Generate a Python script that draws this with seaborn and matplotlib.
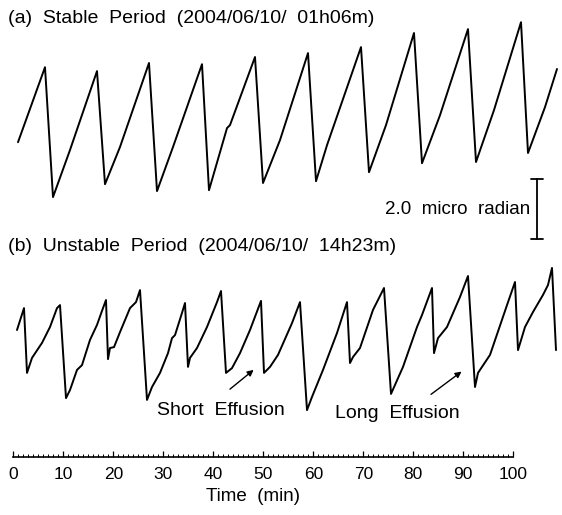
import numpy as np
import pandas as pd
import matplotlib
matplotlib.use("Agg")
import matplotlib.pyplot as plt
from matplotlib.ticker import FixedLocator
import seaborn as sns

# (a) stable period: time (min) and tilt (micro radian)
stable_t = [0.94, 6.34, 7.94, 11.34, 16.74, 18.34, 21.34, 27.14, 28.74,
            31.94, 37.74, 39.14, 42.74, 43.34, 48.34, 49.94, 53.34, 58.94,
            60.54, 62.74, 69.54, 71.14, 74.54, 80.14, 81.74, 85.34, 90.94,
            92.54, 96.14, 101.54, 102.94, 106.34, 108.74]
stable_v = [1.83, 4.33, 0.00, 1.57, 4.20, 0.43, 1.67, 4.47, 0.20,
            1.67, 4.43, 0.23, 2.30, 2.40, 4.67, 0.47, 1.90, 4.80,
            0.53, 1.73, 5.00, 0.83, 2.40, 5.47, 1.13, 2.73, 5.60,
            1.17, 2.90, 5.83, 1.47, 3.00, 4.27]

# (b) unstable period
unstable_t = [0.74, 2.14, 2.74, 3.14, 3.74, 5.74, 7.34, 8.74, 9.34, 10.54, 11.34,
              12.74, 13.74, 15.34, 16.74, 17.94, 18.54, 18.94, 19.34, 20.14, 21.34, 22.94,
              23.34, 24.54, 25.34, 26.74, 27.74, 29.34, 30.94, 31.74, 32.34, 33.74,
              34.34, 34.94, 35.34, 36.74, 38.74, 40.74, 41.54, 42.54, 43.74, 45.34, 47.34,
              49.54, 50.14, 51.34, 52.94, 55.74, 57.34, 58.74, 59.74, 61.94, 64.74,
              66.74, 67.34, 67.94, 69.34, 71.94, 74.14, 75.54, 77.94, 80.74, 81.74,
              83.74, 84.14, 84.94, 86.74, 89.34, 90.94, 92.34, 92.94, 95.34, 98.74,
              100.34, 100.94, 102.34, 103.94, 105.94, 106.94, 107.74, 108.54]
unstable_v = [2.70, 3.43, 1.27, 1.47, 1.77, 2.27, 2.80, 3.43, 3.53, 0.43, 0.70,
              1.37, 1.53, 2.37, 2.87, 3.43, 3.70, 1.73, 2.10, 2.13, 2.63, 3.27,
              3.43, 3.63, 4.03, 0.37, 0.80, 1.27, 1.93, 2.43, 2.53, 3.27,
              3.60, 1.47, 1.77, 2.10, 2.80, 3.63, 4.00, 1.27, 1.43, 1.93, 2.70,
              3.67, 1.27, 1.47, 1.87, 2.93, 3.63, 0.03, 0.47, 1.37, 2.60,
              3.63, 1.60, 1.80, 2.10, 3.37, 4.10, 0.57, 1.47, 2.80, 3.20,
              4.10, 1.93, 2.43, 2.80, 3.80, 4.50, 0.80, 1.27, 1.87, 3.53,
              4.30, 2.03, 2.80, 3.30, 3.87, 4.20, 4.77, 2.03]

tick_values = list(range(0, 101, 10))
scale_bar_urad = 2.0

stable = pd.DataFrame({"t": stable_t, "v": np.array(stable_v) + 7.13})
unstable = pd.DataFrame({"t": unstable_t, "v": unstable_v})

sns.set_style("white")
plt.rcParams["font.family"] = ["Liberation Sans", "DejaVu Sans"]
plt.rcParams["text.color"] = "black"
plt.rcParams["axes.labelcolor"] = "black"
plt.rcParams["xtick.color"] = "black"

fig = plt.figure(figsize=(5.62, 5.15), dpi=100)
ax = fig.add_axes([0, 58 / 515, 1, 457 / 515])

sns.lineplot(data=stable, x="t", y="v", ax=ax, color="black", lw=1.4,
             sort=False, estimator=None)
sns.lineplot(data=unstable, x="t", y="v", ax=ax, color="black", lw=1.4,
             sort=False, estimator=None)

ax.set_xlim(-2.66, 109.74)
ax.set_ylim(-1.533, 13.7)

# scale bar
bar_x, bar_y0 = 104.74, 5.73
ax.plot([bar_x, bar_x], [bar_y0, bar_y0 + scale_bar_urad], color="black", lw=1.3)
for yy in (bar_y0, bar_y0 + scale_bar_urad):
    ax.plot([bar_x - 1.2, bar_x + 1.2], [yy, yy], color="black", lw=1.3)
ax.text(103.3, bar_y0 + scale_bar_urad / 2, f"{scale_bar_urad:.1f}  micro  radian",
        ha="right", va="center", fontsize=13.5)

# panel titles
ax.text(-1.06, 13.1, "(a)  Stable  Period  (2004/06/10/  01h06m)",
        ha="left", va="center", fontsize=14)
ax.text(-1.06, 5.47, "(b)  Unstable  Period  (2004/06/10/  14h23m)",
        ha="left", va="center", fontsize=14)

# annotations
ax.annotate("", xy=(48.5, 1.43), xytext=(42.9, 0.67),
            arrowprops=dict(arrowstyle="-|>", color="black", lw=1.0, mutation_scale=9))
ax.text(28.7, 0.03, "Short  Effusion", ha="left", va="center", fontsize=14)
ax.annotate("", xy=(90.1, 1.37), xytext=(83.1, 0.5),
            arrowprops=dict(arrowstyle="-|>", color="black", lw=1.0, mutation_scale=9))
ax.text(64.3, -0.07, "Long  Effusion", ha="left", va="center", fontsize=14)

# time axis
for side in ("top", "left", "right"):
    ax.spines[side].set_visible(False)
ax.spines["bottom"].set_bounds(0, 100)
ax.spines["bottom"].set_linewidth(1.2)
ax.spines["bottom"].set_color("black")
ax.set_yticks([])
ax.xaxis.set_major_locator(FixedLocator(tick_values))
ax.xaxis.set_minor_locator(FixedLocator(np.arange(0, 101, 1)))
ax.tick_params(axis="x", which="major", direction="in", length=4, width=0.9,
               color="black", labelcolor="black", pad=7, labelsize=12.5, bottom=True)
ax.tick_params(axis="x", which="minor", direction="in", length=2, width=0.7,
               color="black", bottom=True)
ax.set_xlabel("Time  (min)", fontsize=13.5)
ax.xaxis.set_label_coords(253 / 562, -0.068)
ax.set_ylabel("")

fig.savefig("out.png", dpi=100)
